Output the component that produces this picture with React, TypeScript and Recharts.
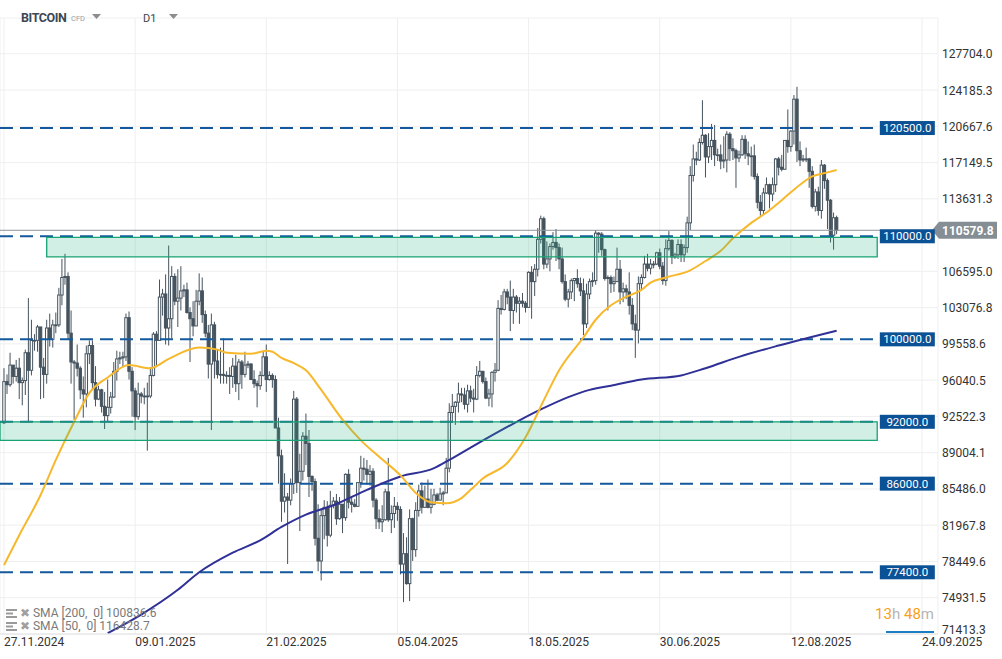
import React from 'react';
import { ComposedChart, Bar, Line, XAxis, YAxis, CartesianGrid, ReferenceLine, ReferenceArea } from 'recharts';

// OHLC in thousands of USD, one row per day starting 27.11.2024
const nov2024 = [
  [91.9, 97.2, 91.8, 95.9], [95.9, 96.6, 94.7, 95.6], [95.6, 98.7, 95.4, 97.5], [97.5, 97.5, 95.7, 96.4],
];
const dec2024 = [
  [96.4, 98.0, 95.9, 97.2], [97.2, 98.2, 94.2, 95.8], [95.8, 96.3, 93.6, 96.0], [96.0, 99.0, 94.6, 98.7],
  [98.7, 104.0, 92.0, 97.0], [97.0, 101.9, 96.5, 99.9], [99.9, 100.5, 98.9, 99.9], [99.9, 101.4, 98.8, 101.2],
  [101.2, 101.2, 94.2, 97.3], [97.3, 98.2, 94.3, 96.6], [96.6, 101.9, 95.7, 101.1], [101.1, 102.5, 99.3, 100.0],
  [100.0, 101.9, 99.2, 101.4], [101.4, 102.6, 100.6, 101.4], [101.4, 105.0, 101.2, 104.3], [104.3, 107.8, 103.3, 106.0],
  [106.0, 108.3, 105.3, 106.1], [106.1, 106.5, 100.0, 100.6], [100.6, 102.8, 95.7, 97.8], [97.8, 98.0, 92.2, 97.7],
  [97.7, 99.5, 96.4, 97.2], [97.2, 97.4, 94.2, 95.1], [95.1, 96.4, 92.4, 94.7], [94.7, 99.4, 93.4, 98.6],
  [98.6, 99.9, 97.6, 99.4], [99.4, 99.9, 95.2, 95.8], [95.8, 97.4, 93.5, 94.2], [94.2, 95.5, 94.1, 95.1],
  [95.1, 95.2, 92.9, 93.5], [93.5, 94.9, 91.3, 92.6], [92.6, 96.1, 92.0, 93.4],
];
const jan2025 = [
  [93.4, 94.9, 92.8, 94.4], [94.4, 97.8, 94.3, 96.9], [96.9, 98.9, 96.0, 98.1], [98.1, 98.8, 97.6, 98.2],
  [98.2, 98.8, 97.3, 98.3], [98.3, 102.5, 97.9, 102.1], [102.1, 102.7, 96.1, 96.9], [96.9, 97.3, 92.5, 95.0],
  [95.0, 95.3, 91.2, 92.5], [92.5, 95.8, 92.2, 94.7], [94.7, 94.9, 93.8, 94.5], [94.5, 95.3, 93.7, 94.5],
  [94.5, 95.8, 89.2, 94.5], [94.5, 97.3, 94.3, 96.5], [96.5, 100.7, 96.4, 100.5], [100.5, 100.8, 97.3, 99.9],
  [99.9, 105.8, 99.9, 104.1], [104.1, 104.9, 102.3, 104.4], [104.4, 106.3, 99.5, 101.1], [101.1, 109.1, 99.4, 102.0],
  [102.0, 107.1, 100.1, 106.1], [106.1, 106.4, 103.3, 103.7], [103.7, 106.8, 101.2, 104.0], [104.0, 107.1, 102.8, 104.7],
  [104.7, 105.3, 104.1, 104.8], [104.8, 105.5, 102.5, 102.6], [102.6, 103.1, 97.8, 102.0], [102.0, 103.7, 100.3, 101.3],
  [101.3, 104.8, 101.3, 103.7], [103.7, 106.4, 103.3, 104.7], [104.7, 106.0, 101.6, 102.4],
];
const feb2025 = [
  [102.4, 102.8, 100.2, 100.6], [100.6, 101.4, 96.2, 97.6], [97.6, 102.5, 91.2, 101.4], [101.4, 101.7, 96.2, 97.9],
  [97.9, 99.0, 96.2, 96.6], [96.6, 99.2, 95.7, 96.6], [96.6, 100.1, 95.7, 96.5], [96.5, 96.9, 95.7, 96.5],
  [96.5, 97.3, 94.7, 96.4], [96.4, 98.2, 95.3, 97.4], [97.4, 98.5, 94.9, 95.7], [95.7, 98.1, 94.1, 97.8],
  [97.8, 98.0, 95.2, 96.6], [96.6, 98.8, 96.3, 97.5], [97.5, 97.9, 97.2, 97.6], [97.6, 97.7, 96.1, 96.1],
  [96.1, 97.0, 95.3, 95.7], [95.7, 96.0, 93.4, 95.5], [95.5, 96.9, 95.1, 96.5], [96.5, 98.8, 96.4, 98.3],
  [98.3, 99.5, 94.9, 96.1], [96.1, 96.9, 96.0, 96.5], [96.5, 96.7, 95.3, 96.1], [96.1, 96.5, 91.4, 91.4],
  [91.4, 92.4, 86.0, 88.7], [88.7, 89.3, 82.3, 84.3], [84.3, 87.0, 83.2, 84.7], [84.7, 85.1, 78.2, 84.4],
];
const mar2025 = [
  [84.4, 86.5, 83.9, 86.0], [86.0, 95.0, 85.0, 94.2], [94.2, 94.4, 85.1, 86.1], [86.1, 88.9, 81.4, 87.2],
  [87.2, 91.0, 86.3, 90.6], [90.6, 92.8, 87.8, 89.9], [89.9, 91.2, 84.7, 86.7], [86.7, 86.8, 85.3, 86.2],
  [86.2, 86.5, 80.0, 80.7], [80.7, 84.0, 77.5, 78.5], [78.5, 83.6, 76.6, 82.9], [82.9, 84.4, 80.6, 83.7],
  [83.7, 84.3, 79.9, 81.0], [81.0, 85.3, 80.8, 83.9], [83.9, 84.7, 83.6, 84.3], [84.3, 85.0, 82.0, 82.6],
  [82.6, 84.7, 82.5, 84.0], [84.0, 84.0, 81.2, 82.7], [82.7, 87.0, 82.4, 86.9], [86.9, 87.4, 83.6, 84.2],
  [84.2, 84.8, 83.2, 84.0], [84.0, 84.5, 83.7, 83.8], [83.8, 86.1, 83.8, 86.1], [86.1, 88.7, 85.6, 87.5],
  [87.5, 88.5, 86.3, 87.4], [87.4, 88.3, 85.9, 86.9], [86.9, 87.8, 85.8, 87.2], [87.2, 87.5, 83.7, 84.4],
  [84.4, 84.6, 81.6, 82.6], [82.6, 83.5, 81.6, 82.3], [82.3, 83.9, 81.3, 82.5],
];
const apr2025 = [
  [82.5, 85.5, 82.4, 85.2], [85.2, 88.5, 82.3, 82.5], [82.5, 83.9, 81.2, 83.1], [83.1, 84.7, 81.7, 83.8],
  [83.8, 84.2, 82.4, 83.5], [83.5, 83.8, 77.2, 78.2], [78.2, 81.2, 74.5, 79.2], [79.2, 80.8, 76.2, 76.3],
  [76.3, 83.5, 74.6, 82.6], [82.6, 82.7, 78.5, 79.6], [79.6, 84.2, 78.9, 83.4], [83.4, 85.9, 82.8, 85.3],
  [85.3, 86.1, 83.1, 83.7], [83.7, 85.8, 83.7, 84.5], [84.5, 86.4, 83.6, 83.7], [83.7, 85.5, 83.1, 84.0],
  [84.0, 85.5, 83.9, 84.9], [84.9, 85.1, 84.3, 84.4], [84.4, 85.6, 84.4, 85.0], [85.0, 85.3, 83.9, 85.1],
  [85.1, 88.5, 85.1, 87.5], [87.5, 93.8, 87.1, 92.9], [92.9, 94.7, 91.9, 93.5], [93.5, 94.0, 91.7, 93.9],
  [93.9, 95.8, 92.9, 94.7], [94.7, 95.3, 93.9, 94.6], [94.6, 95.3, 93.2, 93.7], [93.7, 95.6, 92.9, 95.0],
  [95.0, 95.5, 93.9, 94.3], [94.3, 95.2, 92.9, 94.2],
];
const may2025 = [
  [94.2, 97.4, 94.1, 96.5], [96.5, 97.9, 96.3, 96.9], [96.9, 96.9, 95.7, 95.9], [95.9, 96.3, 94.2, 94.3],
  [94.3, 95.2, 93.5, 94.7], [94.7, 96.9, 93.4, 96.8], [96.8, 97.7, 95.9, 97.0], [97.0, 103.8, 96.9, 103.0],
  [103.0, 104.3, 102.4, 102.9], [102.9, 104.9, 102.8, 104.6], [104.6, 104.9, 103.4, 104.1], [104.1, 105.7, 100.8, 102.8],
  [102.8, 104.9, 101.5, 104.1], [104.1, 104.3, 102.6, 103.5], [103.5, 104.1, 101.5, 103.7], [103.7, 104.5, 103.1, 103.5],
  [103.5, 103.7, 102.6, 103.1], [103.1, 106.6, 103.1, 106.5], [106.5, 107.1, 102.0, 105.6], [105.6, 107.3, 104.2, 106.8],
  [106.8, 110.8, 106.1, 109.7], [109.7, 112.0, 109.3, 111.7], [111.7, 111.9, 106.8, 107.3], [107.3, 109.5, 106.9, 107.8],
  [107.8, 109.3, 106.6, 109.0], [109.0, 110.4, 108.7, 109.4], [109.4, 110.7, 107.6, 108.9], [108.9, 109.3, 106.8, 107.8],
  [107.8, 108.9, 105.4, 105.6], [105.6, 106.3, 103.7, 103.9], [103.9, 104.9, 103.1, 104.6],
];
const jun2025 = [
  [104.6, 105.9, 103.9, 105.7], [105.7, 105.9, 103.7, 105.9], [105.9, 106.8, 105.0, 105.4], [105.4, 106.0, 104.2, 104.7],
  [104.7, 105.9, 100.4, 101.5], [101.5, 105.4, 101.1, 104.4], [104.4, 105.9, 103.9, 105.6], [105.6, 106.5, 105.1, 105.7],
  [105.7, 110.6, 105.3, 110.3], [110.3, 110.4, 108.4, 110.2], [110.2, 110.4, 108.1, 108.7], [108.7, 108.8, 105.7, 105.9],
  [105.9, 106.2, 102.8, 106.0], [106.0, 106.2, 104.5, 105.4], [105.4, 106.1, 104.6, 105.6], [105.6, 108.9, 105.6, 106.8],
  [106.8, 107.7, 103.4, 104.6], [104.6, 105.5, 103.6, 104.9], [104.9, 105.3, 103.9, 104.6], [104.6, 106.5, 102.4, 103.3],
  [103.3, 104.0, 100.9, 101.5], [101.5, 102.4, 98.2, 100.9], [100.9, 106.1, 99.6, 105.4], [105.4, 106.3, 104.7, 106.0],
  [106.0, 108.1, 105.9, 107.3], [107.3, 108.3, 106.6, 106.9], [106.9, 107.8, 106.3, 107.3], [107.3, 107.6, 106.9, 107.3],
  [107.3, 108.5, 107.2, 108.4], [108.4, 108.8, 106.8, 107.1],
];
const jul2025 = [
  [107.1, 107.5, 105.3, 105.7], [105.7, 109.7, 105.2, 108.8], [108.8, 110.5, 108.6, 109.6], [109.6, 109.7, 107.3, 108.0],
  [108.0, 108.4, 107.8, 108.2], [108.2, 109.7, 107.8, 109.2], [109.2, 109.7, 107.5, 108.2], [108.2, 109.2, 107.5, 108.9],
  [108.9, 111.9, 108.4, 111.3], [111.3, 116.8, 110.6, 115.9], [115.9, 118.9, 115.3, 117.5], [117.5, 118.2, 116.9, 117.4],
  [117.4, 119.5, 117.3, 119.1], [119.1, 123.2, 118.9, 119.8], [119.8, 119.9, 115.7, 117.7], [117.7, 120.0, 117.1, 118.7],
  [118.7, 120.9, 117.4, 119.3], [119.3, 120.8, 116.8, 117.9], [117.9, 118.5, 117.3, 117.9], [117.9, 118.9, 116.5, 117.3],
  [117.3, 119.7, 116.6, 117.4], [117.4, 120.2, 116.2, 119.9], [119.9, 120.1, 117.3, 118.5], [118.5, 119.5, 117.4, 118.3],
  [118.3, 118.5, 114.7, 117.6], [117.6, 118.3, 117.2, 117.9], [117.9, 119.8, 117.8, 119.4], [119.4, 119.8, 117.5, 118.0],
  [118.0, 119.2, 116.9, 117.8], [117.8, 118.7, 115.8, 117.8], [117.8, 118.9, 115.5, 115.8],
];
const aug2025 = [
  [115.8, 116.1, 112.7, 113.3], [113.3, 114.0, 112.0, 112.5], [112.5, 114.7, 112.1, 114.2], [114.2, 115.7, 114.1, 115.0],
  [115.0, 115.1, 112.7, 114.1], [114.1, 115.7, 113.4, 115.0], [115.0, 117.6, 114.3, 117.5], [117.5, 117.7, 115.9, 116.7],
  [116.7, 117.9, 116.3, 116.5], [116.5, 119.3, 116.5, 119.3], [119.3, 122.3, 118.1, 118.7], [118.7, 120.3, 118.2, 120.2],
  [120.2, 123.7, 118.9, 123.3], [123.3, 124.5, 117.2, 118.3], [118.3, 119.2, 116.8, 117.4], [117.4, 117.9, 117.2, 117.5],
  [117.5, 118.6, 117.2, 117.5], [117.5, 117.6, 114.7, 116.3], [116.3, 116.8, 112.7, 112.9], [112.9, 114.6, 112.4, 114.3],
  [114.3, 114.8, 112.0, 112.5], [112.5, 117.4, 111.7, 116.9], [116.9, 117.0, 114.6, 115.4], [115.4, 115.6, 110.7, 113.5],
  [113.5, 113.6, 109.4, 110.1], [110.1, 112.3, 108.7, 111.8], [111.8, 112.0, 110.2, 110.58],
];

// [day index, SMA value in thousands]
const sma50Points = [
  [0, 78.1], [5, 81.0], [12, 84.9], [17, 88.3], [23, 92.0], [28, 94.8], [34, 96.3], [41, 97.5], [48, 97.2],
  [54, 98.1], [64, 99.2], [70, 99.0], [73, 98.7], [81, 98.6], [86, 98.9], [88, 98.8], [91, 98.2], [95, 97.7],
  [99, 97.0], [104, 95.1], [111, 92.2], [117, 90.2], [123, 88.6], [130, 86.8], [135, 85.1], [140, 84.2],
  [145, 84.1], [150, 84.6], [153, 85.4], [157, 86.5], [165, 88.0], [171, 90.5], [177, 94.1], [182, 97.0],
  [190, 100.2], [194, 101.9], [199, 103.3], [203, 104.0], [209, 104.8], [212, 105.5], [217, 106.0], [225, 106.7],
  [230, 107.6], [235, 108.6], [239, 109.8], [245, 111.3], [250, 112.3], [255, 113.5], [261, 115.0], [265, 115.8],
  [270, 116.2], [273, 116.43],
];
const sma200Points = [
  [34, 71.5], [45, 73.3], [57, 75.7], [64, 77.4], [75, 79.3], [84, 80.5], [91, 81.8], [99, 83.0], [108, 83.9],
  [119, 85.4], [130, 86.7], [141, 87.5], [146, 88.3], [153, 89.5], [165, 91.5], [176, 93.2], [185, 94.4],
  [192, 95.1], [199, 95.5], [209, 96.1], [222, 96.5], [230, 97.2], [241, 98.3], [254, 99.4], [273, 100.84],
];

const dateTicks = [0, 43, 86, 129, 172, 215, 258, 301];
const dateLabels = ['27.11.2024', '09.01.2025', '21.02.2025', '05.04.2025', '18.05.2025', '30.06.2025', '12.08.2025', '24.09.2025'];
const yTickLabels = [
  '127704.0', '124185.3', '120667.6', '117149.5', '113631.3', '106595.0', '103076.8', '99558.6', '96040.5',
  '92522.3', '89004.1', '85486.0', '81967.8', '78449.6', '74931.5', '71413.3',
];
const levelValues = [120.5, 110.0, 100.0, 92.0, 86.0, 77.4];
const levelLabels = ['120500.0', '110000.0', '100000.0', '92000.0', '86000.0', '77400.0'];
const zoneStarts = [14, -1.3115];
const zoneEnd = 286.3;
const zoneLows = [108.0, 90.2];
const zoneHighs = [109.9, 92.0];
const lastPrice = 110.5798;
const lastPriceLabel = '110579.8';
const sma200Label = 'SMA [200,  0] 100836.6';
const sma50Label = 'SMA [50,  0] 116428.7';

const X_DOMAIN = [-1.3115, 306.23];
const Y_DOMAIN = [71.4133, 131.175];

const candles = [nov2024, dec2024, jan2025, feb2025, mar2025, apr2025, may2025, jun2025, jul2025, aug2025].flat();
const sma50Map = new Map(sma50Points.map(([d, v]) => [d, v]));
const sma200Map = new Map(sma200Points.map(([d, v]) => [d, v]));
const rows = candles.map(([o, h, l, c], d) => ({
  d, o, h, l, c, range: [l, h],
  sma50: sma50Map.has(d) ? sma50Map.get(d) : null,
  sma200: sma200Map.has(d) ? sma200Map.get(d) : null,
}));

const CANDLE = '#45535e';
const LEVEL = '#14599d';
const FONT = 'Roboto, "Noto Sans", sans-serif';

const Candle = (props: any) => {
  const { x, y, width, height, payload } = props;
  if (x == null || y == null || !payload) return null;
  const { o, h, l, c } = payload;
  const cx = x + width / 2;
  const span = h - l;
  const ppu = span > 0 ? height / span : 0;
  const yO = y + (h - o) * ppu;
  const yC = y + (h - c) * ppu;
  const up = c >= o;
  const top = Math.min(yO, yC);
  const bot = Math.max(yO, yC);
  return (
    <g>
      <line x1={cx} x2={cx} y1={y} y2={y + height} stroke={CANDLE} strokeWidth={1} />
      <rect x={cx - 1.2} y={top} width={2.4} height={Math.max(bot - top, 0.8)} fill={up ? '#ffffff' : CANDLE} stroke={CANDLE} strokeWidth={1} />
    </g>
  );
};

const DateTick = (props: any) => {
  const { x, y, payload } = props;
  const i = dateTicks.indexOf(payload.value);
  return (
    <text x={x} y={y + 10} textAnchor="start" fontSize={12} fill="#333" fontFamily={FONT}>
      {dateLabels[i]}
    </text>
  );
};

const yTicks = yTickLabels.map((s) => Number(s) / 1000);

const PriceTick = (props: any) => {
  const { x, y, payload } = props;
  const i = yTicks.indexOf(payload.value);
  const shift = i === yTicks.length - 1 ? -5 : 0;
  return (
    <text x={x} y={y + 4.5 + shift} textAnchor="start" fontSize={12} fill="#333" fontFamily={FONT}>
      {yTickLabels[i]}
    </text>
  );
};

const levelTag = (text: string) => (props: any) => {
  const vb = props.viewBox || {};
  const right = (vb.x || 0) + (vb.width || 0);
  const cy = vb.y || 0;
  return (
    <g>
      <rect x={right + 2} y={cy - 7} width={55} height={14} fill="#0b5195" />
      <text x={right + 29.5} y={cy + 4} textAnchor="middle" fontSize={11.5} fill="#ffffff" fontFamily={FONT}>{text}</text>
    </g>
  );
};

const priceTag = (props: any) => {
  const vb = props.viewBox || {};
  const right = (vb.x || 0) + (vb.width || 0);
  const cy = vb.y || 0;
  const x0 = right - 6;
  return (
    <g>
      <polygon points={`${x0},${cy} ${x0 + 7},${cy - 8.5} ${x0 + 65},${cy - 8.5} ${x0 + 65},${cy + 8.5} ${x0 + 7},${cy + 8.5}`} fill="#858e94" />
      <text x={x0 + 10} y={cy + 4.5} textAnchor="start" fontSize={12} fontWeight="bold" fill="#ffffff" fontFamily={FONT}>{lastPriceLabel}</text>
    </g>
  );
};

const LegendIcon = () => (
  <svg width={11} height={9} style={{ verticalAlign: 'middle' }}>
    <rect x={0} y={0} width={11} height={2} fill="#9a9a9a" />
    <rect x={0} y={3.5} width={7} height={2} fill="#9a9a9a" />
    <rect x={0} y={7} width={11} height={2} fill="#9a9a9a" />
  </svg>
);

export default function App() {
  return (
    <div style={{ position: 'absolute', left: 0, top: 0, width: 1002, height: 659, background: '#ffffff', fontFamily: FONT, overflow: 'hidden' }}>
      <ComposedChart width={1002} height={659} data={rows} margin={{ top: 18, right: 0, bottom: 0, left: 0 }}>
        <CartesianGrid stroke="#efefef" />
        <XAxis
          dataKey="d" type="number" domain={X_DOMAIN} allowDataOverflow ticks={dateTicks} interval={0}
          height={25} tickLine={false} tickSize={0} tickMargin={2} axisLine={{ stroke: '#e2e2e2' }} tick={<DateTick />}
        />
        <YAxis
          orientation="right" type="number" domain={Y_DOMAIN} allowDataOverflow ticks={yTicks} interval={0}
          width={64} tickLine={false} tickSize={0} tickMargin={4} axisLine={false} tick={<PriceTick />}
        />
        <ReferenceLine y={lastPrice} stroke="#8d969c" strokeWidth={1} label={priceTag} ifOverflow="visible" />
        {levelValues.map((v, i) => (
          <ReferenceLine
            key={'lv' + i}
            segment={[{ x: X_DOMAIN[0], y: v }, { x: zoneEnd + 0.2, y: v }]}
            stroke={LEVEL} strokeWidth={2} strokeDasharray="13 7" label={levelTag(levelLabels[i])} ifOverflow="visible"
          />
        ))}
        <Bar dataKey="range" barSize={3} shape={<Candle />} isAnimationActive={false} />
        <Line dataKey="sma200" type="monotone" stroke="#2f3196" strokeWidth={2} dot={false} connectNulls isAnimationActive={false} />
        <Line dataKey="sma50" type="monotone" stroke="#f7b82c" strokeWidth={2} dot={false} connectNulls isAnimationActive={false} />
        {zoneStarts.map((s, i) => (
          <ReferenceArea
            key={'z' + i} x1={s} x2={zoneEnd} y1={zoneLows[i]} y2={zoneHighs[i]}
            fill="#20b07c" fillOpacity={0.2} stroke="#17a373" strokeWidth={1.3} strokeOpacity={1}
            {...({ zIndex: 450 } as any)}
          />
        ))}
      </ComposedChart>

      <div style={{ position: 'absolute', left: 21, top: 10, fontSize: 12.5, fontWeight: 'bold', color: '#3b4855', letterSpacing: -0.4 }}>BITCOIN</div>
      <div style={{ position: 'absolute', left: 71, top: 14, fontSize: 7.5, color: '#9aa0a6' }}>CFD</div>
      <svg style={{ position: 'absolute', left: 92, top: 14 }} width={9} height={6}>
        <polygon points="0,0 9,0 4.5,5" fill="#8d8d8d" />
      </svg>
      <div style={{ position: 'absolute', left: 143, top: 12, fontSize: 11, color: '#444' }}>D1</div>
      <svg style={{ position: 'absolute', left: 169, top: 14 }} width={9} height={6}>
        <polygon points="0,0 9,0 4.5,5" fill="#8d8d8d" />
      </svg>

      <div style={{ position: 'absolute', left: 6, top: 607, fontSize: 12, color: '#7a7a7a', lineHeight: '12.5px', whiteSpace: 'pre' }}>
        <div><LegendIcon /> <span style={{ color: '#a0a0a0' }}>✖</span> {sma200Label}</div>
        <div><LegendIcon /> <span style={{ color: '#a0a0a0' }}>✖</span> {sma50Label}</div>
      </div>

      <div style={{ position: 'absolute', right: 68, top: 605, fontSize: 15, lineHeight: '18px', whiteSpace: 'nowrap' }}>
        <span style={{ color: '#f7a11a' }}>13</span><span style={{ color: '#b5b5b5' }}>h </span>
        <span style={{ color: '#f7a11a' }}>48</span><span style={{ color: '#b5b5b5' }}>m</span>
      </div>
      <div style={{ position: 'absolute', left: 886, top: 631, width: 48, height: 2, background: '#1b7ec0' }} />
    </div>
  );
}
